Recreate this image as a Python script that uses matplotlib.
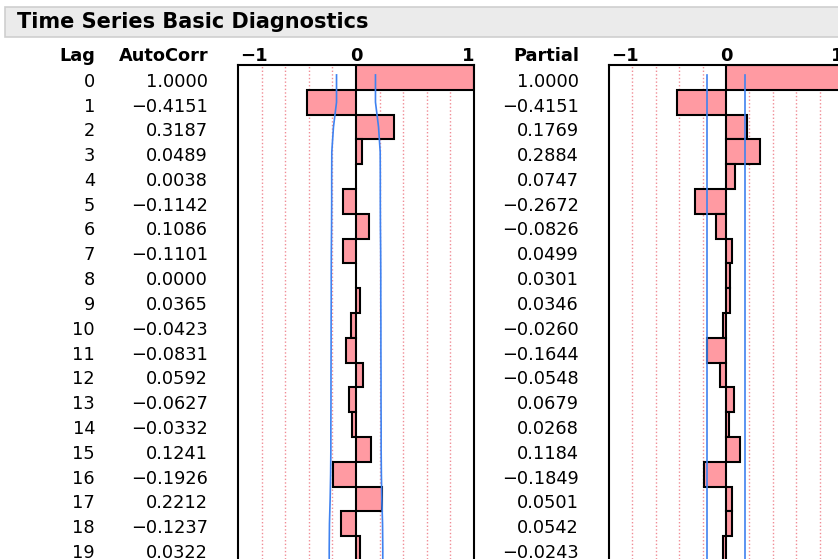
import matplotlib
matplotlib.use("Agg")
import matplotlib.pyplot as plt
from matplotlib.patches import Rectangle

# data
lags = list(range(20))
autocorr = [1.0000, -0.4151, 0.3187, 0.0489, 0.0038, -0.1142, 0.1086, -0.1101, 0.0000, 0.0365,
            -0.0423, -0.0831, 0.0592, -0.0627, -0.0332, 0.1241, -0.1926, 0.2212, -0.1237, 0.0322]
partial = [1.0000, -0.4151, 0.1769, 0.2884, 0.0747, -0.2672, -0.0826, 0.0499, 0.0301, 0.0346,
           -0.0260, -0.1644, -0.0548, 0.0679, 0.0268, 0.1184, -0.1849, 0.0501, 0.0542, -0.0243]
# confidence band half-widths (estimated from the blue curves)
acf_band = [0.165, 0.165, 0.191, 0.205, 0.206, 0.206, 0.207, 0.209, 0.210, 0.210,
            0.211, 0.211, 0.212, 0.212, 0.213, 0.213, 0.215, 0.219, 0.225, 0.227]
pacf_band = [0.166] * 20
grid_ticks = [-0.8, -0.6, -0.4, -0.2, 0.2, 0.4, 0.6, 0.8]

W, H = 838, 559
ROW = 24.8
TOP = 65
BAR_COLOR = "#FF9AA2"
BLUE = "#3F82F0"

plt.rcParams["font.family"] = ["DejaVu Sans"]
fig = plt.figure(figsize=(W / 100, H / 100), dpi=100)


def fx(x):
    return x / W


def fy(y):
    return 1 - y / H


# title bar
fig.patches.append(Rectangle((fx(5), fy(37)), fx(840) - fx(5), fy(7) - fy(37),
                             transform=fig.transFigure, facecolor="#EBEBEB",
                             edgecolor="#CFCFCF", linewidth=1.2))
fig.text(fx(17), fy(28), "Time Series Basic Diagnostics", fontsize=15,
         fontweight="bold", ha="left", va="baseline")

nrows_vis = (H - TOP) / ROW


def panel(left, right, values, band):
    ax = fig.add_axes([fx(left), 0, fx(right) - fx(left), fy(TOP)])
    ax.set_xlim(-1, 1)
    ax.set_ylim(nrows_vis - 0.5, -0.5)
    for g in grid_ticks:
        ax.axvline(g, color="#F08C95", linestyle=(0, (1, 1.6)), linewidth=1, zorder=1)
    ax.barh(lags, values, height=1.0, left=0, color=BAR_COLOR, edgecolor="black",
            linewidth=1.5, zorder=2)
    ys = [-0.1] + lags[1:] + [nrows_vis]
    bs = band + [band[-1]]
    ax.plot(bs, ys, color=BLUE, linewidth=1.2, zorder=3)
    ax.plot([-b for b in bs], ys, color=BLUE, linewidth=1.2, zorder=3)
    ax.set_xticks([])
    ax.set_yticks([])
    for s in ["top", "left", "right"]:
        ax.spines[s].set_linewidth(1.5)
    ax.spines["bottom"].set_visible(False)
    return ax


ax1 = panel(238, 474, autocorr, acf_band)
ax2 = panel(609, 843, partial, pacf_band)

# axis labels above the boxes
tick_fs = 13
for left, right in [(238, 474), (609, 843)]:
    zero = (left + right) / 2
    fig.text(fx(left + 2), fy(61), "\u22121", fontsize=tick_fs, fontweight="bold",
             ha="left", va="baseline")
    fig.text(fx(zero), fy(61), "0", fontsize=tick_fs, fontweight="bold",
             ha="center", va="baseline")
    fig.text(fx(right), fy(61), "1", fontsize=tick_fs, fontweight="bold",
             ha="right", va="baseline")

# column headers
fs = 12.8
fig.text(fx(95), fy(61), "Lag", fontsize=fs, fontweight="bold", ha="right", va="baseline")
fig.text(fx(209), fy(61), "AutoCorr", fontsize=fs, fontweight="bold", ha="right", va="baseline")
fig.text(fx(579), fy(61), "Partial", fontsize=fs, fontweight="bold", ha="right", va="baseline")


def fmt(v):
    s = f"{v:.4f}"
    return s.replace("-", "\u2212")


for i in lags:
    yb = 86.7 + ROW * i
    fig.text(fx(95), fy(yb), str(i), fontsize=fs, ha="right", va="baseline")
    fig.text(fx(208), fy(yb), fmt(autocorr[i]), fontsize=fs, ha="right", va="baseline")
    fig.text(fx(579), fy(yb), fmt(partial[i]), fontsize=fs, ha="right", va="baseline")

fig.savefig("out.png", dpi=100)
